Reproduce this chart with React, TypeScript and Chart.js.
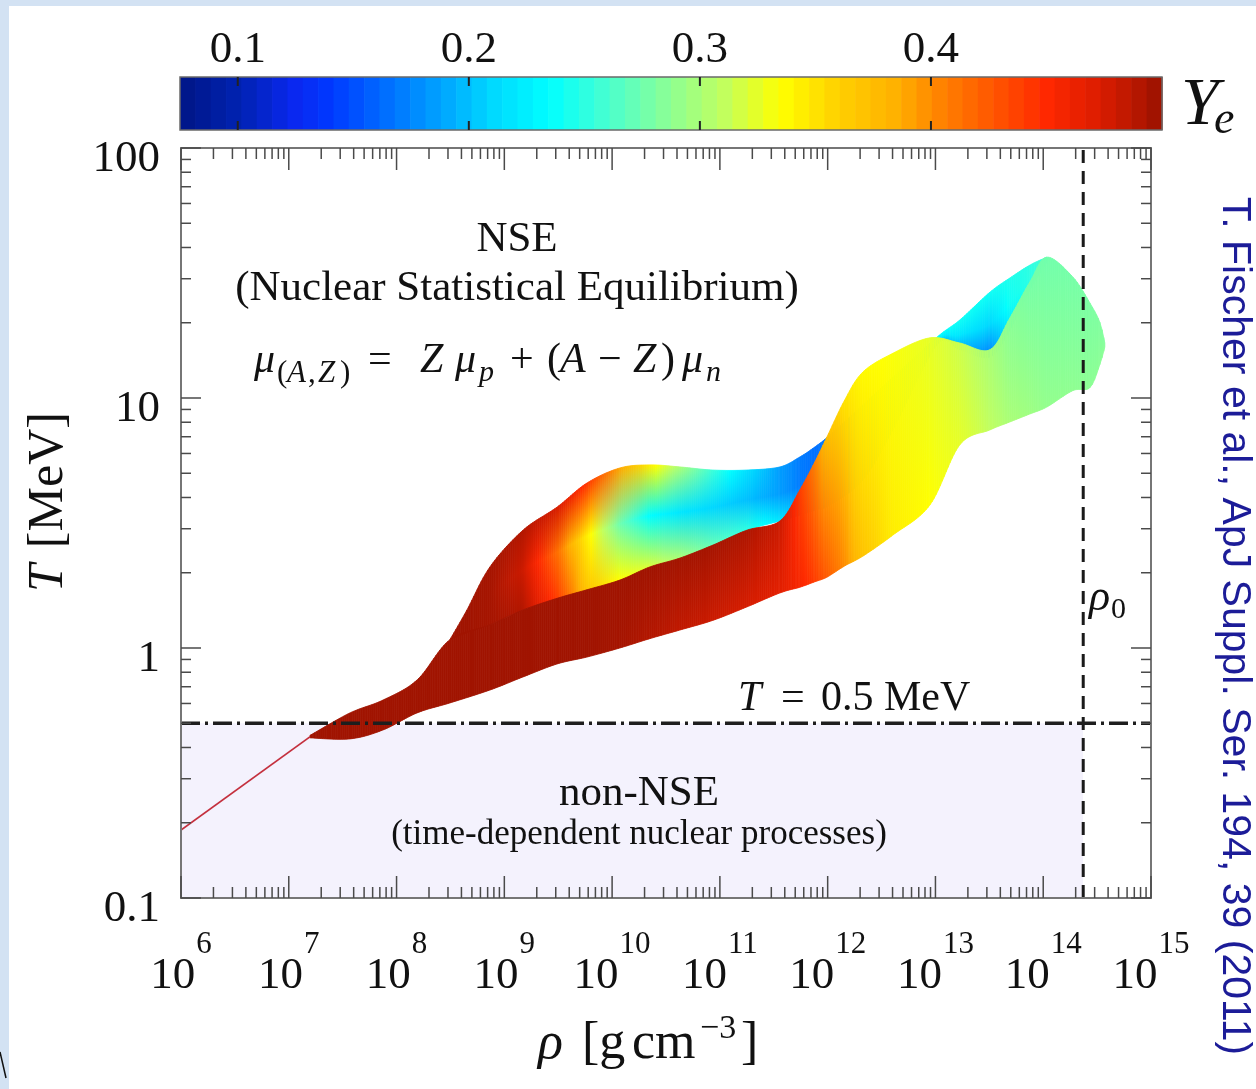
import React, { useEffect, useRef } from 'react';
import { Chart, registerables } from 'chart.js';

Chart.register(...registerables);

const SERIF = '"Liberation Serif", "DejaVu Serif", serif';
const SANS = '"Liberation Sans", Arial, sans-serif';

// Axis ranges: density rho [g cm^-3] and temperature T [MeV]
const RHO_MIN = 1e6;
const RHO_MAX = 1e15;
const T_MIN = 0.1;
const T_MAX = 100;
const X_EXPONENTS = [6, 7, 8, 9, 10, 11, 12, 13, 14, 15];
const Y_TICKS = [0.1, 1, 10, 100];
const Y_TICK_LABELS = ['0.1', '1', '10', '100'];

// Electron fraction colour scale
const YE_MIN = 0.075;
const YE_MAX = 0.5;
const YE_TICKS = [0.1, 0.2, 0.3, 0.4];
const YE_TICK_LABELS = ['0.1', '0.2', '0.3', '0.4'];
const CMAP_YE = [0.075, 0.1, 0.125, 0.14, 0.165, 0.19, 0.21, 0.235, 0.26, 0.285, 0.31, 0.335, 0.36, 0.385, 0.405, 0.43, 0.45, 0.47, 0.485, 0.5];
const CMAP_HEX = ['#001585', '#0022b0', '#0a28f0', '#0038ff', '#0070ff', '#00a8ff', '#00d8ff', '#00ffff', '#48ffd0', '#88ff98', '#c0ff60', '#ffff00', '#ffd000', '#ffb000', '#ff8000', '#ff5000', '#ff2800', '#e01e00', '#c01800', '#981200'];

// Reference lines
const T_NSE = 0.5;
const RHO_0 = 2.35e14;

// Outer low-density layers (single thin track)
const TRACK_RHO = [1e6, 1.57e7];
const TRACK_T = [0.187, 0.441];

// Upper sheet: deleptonised lobe and the cyan strip towards nuclear density
const UPPER_RHO = [3.13e8, 4.5e8, 7.35e8, 1.49e9, 3.08e9, 5.84e9, 1.18e10, 2.24e10, 4.26e10, 8.61e10, 1.78e11, 3.6e11, 5.52e11, 7.6e11, 1.05e12, 2.12e12, 4.03e12, 1.03e13, 1.68e13, 3.2e13, 4.9e13, 7.51e13, 1.08e14];
const UPPER_T_TOP = [1.08, 1.42, 2.11, 2.96, 3.66, 4.57, 5.25, 5.4, 5.3, 5.15, 5.15, 5.3, 5.81, 6.37, 7.11, 9.38, 12.1, 17.5, 20.5, 26.5, 30.2, 34.0, 36.6];
const UPPER_T_BOTTOM = [1.08, 1.15, 1.24, 1.42, 1.58, 1.71, 1.87, 2.11, 2.29, 2.58, 2.96, 3.22, 3.4, 3.56, 3.73, 4.7, 7.45, 16.3, 15.6, 14.6, 18.7, 27.0, 35.0];
const UPPER_YE_TOP = [0.497, 0.497, 0.495, 0.49, 0.475, 0.445, 0.39, 0.345, 0.3, 0.255, 0.215, 0.185, 0.17, 0.165, 0.17, 0.2, 0.22, 0.235, 0.24, 0.24, 0.245, 0.25, 0.26];
const UPPER_YE_MID = [0.497, 0.497, 0.495, 0.48, 0.415, 0.345, 0.275, 0.235, 0.22, 0.21, 0.2, 0.185, 0.17, 0.165, 0.17, 0.2, 0.21, 0.225, 0.22, 0.21, 0.24, 0.25, 0.26];
const UPPER_YE_BOTTOM = [0.497, 0.497, 0.495, 0.49, 0.44, 0.37, 0.335, 0.32, 0.3, 0.27, 0.25, 0.22, 0.2, 0.19, 0.19, 0.2, 0.2, 0.2, 0.19, 0.17, 0.22, 0.25, 0.26];

// Lower sheet: hot, nearly symmetric matter heating up towards nuclear density
const LOWER_RHO = [1.57e7, 3.7e7, 7.48e7, 1.55e8, 3.13e8, 7.35e8, 1.49e9, 3.08e9, 5.84e9, 1.18e10, 2.24e10, 4.26e10, 8.61e10, 1.78e11, 3.6e11, 5.52e11, 7.6e11, 9.84e11, 1.44e12, 2.12e12, 4.03e12, 8.87e12, 1.68e13, 3.2e13, 4.9e13, 7.51e13, 1.08e14, 1.88e14, 2.71e14, 3.35e14, 3.73e14];
const LOWER_T_TOP = [0.447, 0.55, 0.619, 0.745, 1.08, 1.24, 1.42, 1.58, 1.71, 1.87, 2.11, 2.29, 2.58, 2.96, 3.22, 4.29, 5.55, 6.98, 9.82, 12.7, 15.1, 17.4, 16.6, 15.6, 20.9, 29.1, 36.6, 30.5, 24.0, 20.1, 16.6];
const LOWER_T_BOTTOM = [0.437, 0.433, 0.47, 0.55, 0.603, 0.679, 0.766, 0.863, 0.92, 1.0, 1.09, 1.18, 1.29, 1.46, 1.66, 1.75, 1.84, 1.92, 2.13, 2.33, 2.83, 3.73, 6.49, 7.45, 8.02, 8.63, 9.2, 10.7, 11.0, 13.6, 16.0];
const LOWER_YE_TOP = [0.497, 0.497, 0.497, 0.497, 0.497, 0.497, 0.497, 0.497, 0.497, 0.497, 0.497, 0.496, 0.495, 0.492, 0.48, 0.44, 0.405, 0.375, 0.35, 0.338, 0.333, 0.325, 0.315, 0.3, 0.285, 0.278, 0.276, 0.278, 0.28, 0.282, 0.283];
const LOWER_YE_BOTTOM = [0.497, 0.497, 0.497, 0.497, 0.497, 0.497, 0.497, 0.497, 0.497, 0.495, 0.49, 0.485, 0.48, 0.475, 0.468, 0.455, 0.44, 0.425, 0.4, 0.37, 0.345, 0.335, 0.325, 0.31, 0.3, 0.295, 0.29, 0.288, 0.287, 0.286, 0.286];

const W = 1256;
const H = 1089;
const AREA = { left: 181, right: 1151, top: 148, bottom: 898 };
const BAR = { left: 180, right: 1162, top: 77, bottom: 130 };

const hexToRgb = (h: string) => {
  const n = parseInt(h.slice(1), 16);
  return [(n >> 16) & 255, (n >> 8) & 255, n & 255];
};
const CMAP_RGB = CMAP_HEX.map(hexToRgb);

function yeColor(ye: number): string {
  const v = Math.min(CMAP_YE[CMAP_YE.length - 1], Math.max(CMAP_YE[0], ye));
  let i = 0;
  while (i < CMAP_YE.length - 2 && v > CMAP_YE[i + 1]) i++;
  const t = (v - CMAP_YE[i]) / (CMAP_YE[i + 1] - CMAP_YE[i]);
  const a = CMAP_RGB[i];
  const b = CMAP_RGB[i + 1];
  const c = [0, 1, 2].map((k) => Math.round(a[k] + (b[k] - a[k]) * t));
  return `rgb(${c[0]},${c[1]},${c[2]})`;
}

type Run = { t: string; size: number; italic?: boolean; dy?: number; dx?: number; font?: string };
const runFont = (r: Run) => `${r.italic ? 'italic ' : ''}${r.size}px ${r.font || SERIF}`;

function drawRuns(ctx: CanvasRenderingContext2D, runs: Run[], x: number, y: number, align: 'left' | 'center' | 'right') {
  ctx.textAlign = 'left';
  ctx.textBaseline = 'alphabetic';
  const widths = runs.map((r) => {
    ctx.font = runFont(r);
    return ctx.measureText(r.t).width + (r.dx || 0);
  });
  const total = widths.reduce((s, w) => s + w, 0);
  let cx = align === 'center' ? x - total / 2 : align === 'right' ? x - total : x;
  runs.forEach((r, i) => {
    ctx.font = runFont(r);
    ctx.fillText(r.t, cx + (r.dx || 0), y + (r.dy || 0));
    cx += widths[i];
  });
}

// text placed glyph-group by glyph-group: [text, x, baseline, size, italic]
type Placed = [string, number, number, number, boolean];
function drawPlaced(ctx: CanvasRenderingContext2D, items: Placed[]) {
  ctx.textAlign = 'left';
  ctx.textBaseline = 'alphabetic';
  items.forEach(([t, x, y, size, italic]) => {
    ctx.font = `${italic ? 'italic ' : ''}${size}px ${SERIF}`;
    ctx.fillText(t, x, y);
  });
}

const lerp = (p: number, q: number, t: number) => p + (q - p) * t;
const catmull = (p0: number, p1: number, p2: number, p3: number, t: number) =>
  0.5 * (2 * p1 + (-p0 + p2) * t + (2 * p0 - 5 * p1 + 4 * p2 - p3) * t * t + (-p0 + 3 * p1 - 3 * p2 + p3) * t * t * t);

function drawRibbon(chart: any, topIdx: number, botIdx: number, rows: number[][]) {
  const ctx: CanvasRenderingContext2D = chart.ctx;
  const top = chart.getDatasetMeta(topIdx).data;
  const bot = chart.getDatasetMeta(botIdx).data;
  const n = top.length;
  const at = (arr: any[], j: number, key: 'x' | 'y') => arr[Math.max(0, Math.min(n - 1, j))][key];
  const curve = (arr: any[], i: number, key: 'x' | 'y', t: number) =>
    catmull(at(arr, i - 1, key), at(arr, i, key), at(arr, i + 1, key), at(arr, i + 2, key), t);
  for (let i = 0; i < n - 1; i++) {
    const steps = Math.max(1, Math.ceil(Math.abs(top[i + 1].x - top[i].x) / 2));
    for (let k = 0; k < steps; k++) {
      const a = k / steps;
      const b = (k + 1) / steps;
      const m = (a + b) / 2;
      const xa = curve(top, i, 'x', a);
      const xb = curve(top, i, 'x', b);
      const ta = curve(top, i, 'y', a);
      const tb = curve(top, i, 'y', b);
      const ba = curve(bot, i, 'y', a);
      const bb = curve(bot, i, 'y', b);
      const xm = (xa + xb) / 2;
      const tm = (ta + tb) / 2;
      const bm = (ba + bb) / 2;
      let fill: any;
      if (Math.abs(bm - tm) < 0.5) {
        fill = yeColor(lerp(rows[0][i], rows[0][i + 1], m));
      } else {
        const g = ctx.createLinearGradient(xm, tm, xm, bm);
        rows.forEach((row, r) => g.addColorStop(r / (rows.length - 1), yeColor(lerp(row[i], row[i + 1], m))));
        fill = g;
      }
      ctx.beginPath();
      ctx.moveTo(xa, ta);
      ctx.lineTo(xb, tb);
      ctx.lineTo(xb, bb);
      ctx.lineTo(xa, ba);
      ctx.closePath();
      ctx.fillStyle = fill;
      ctx.fill();
      ctx.strokeStyle = fill;
      ctx.lineWidth = 0.8;
      ctx.stroke();
    }
  }
}

const pts = (xs: number[], ys: number[]) => xs.map((x, i) => ({ x, y: ys[i] }));

const edgeDataset = (label: string, data: { x: number; y: number }[]) => ({
  label,
  data,
  showLine: false,
  pointRadius: 0,
  borderWidth: 0,
  fill: false,
  order: 10,
});

const backgroundPlugin = {
  id: 'pageBackground',
  beforeDraw(chart: any) {
    const ctx: CanvasRenderingContext2D = chart.ctx;
    ctx.save();
    ctx.fillStyle = '#ffffff';
    ctx.fillRect(0, 0, W, H);
    ctx.fillStyle = '#d3e2f3';
    ctx.fillRect(0, 0, 9, H);
    ctx.fillRect(0, 0, W, 6);
    ctx.strokeStyle = '#111';
    ctx.lineWidth = 1.5;
    ctx.beginPath();
    ctx.moveTo(0, 1052);
    ctx.lineTo(6, 1078);
    ctx.stroke();
    ctx.restore();
  },
};

const ribbonPlugin = {
  id: 'yeRibbons',
  beforeDatasetsDraw(chart: any) {
    const ctx: CanvasRenderingContext2D = chart.ctx;
    const a = chart.chartArea;
    ctx.save();
    ctx.beginPath();
    ctx.rect(a.left, a.top, a.right - a.left, a.bottom - a.top);
    ctx.clip();
    drawRibbon(chart, 4, 5, [UPPER_YE_TOP, UPPER_YE_MID, UPPER_YE_BOTTOM]);
    drawRibbon(chart, 6, 7, [LOWER_YE_TOP, LOWER_YE_BOTTOM]);
    ctx.restore();
  },
};

const overlayPlugin = {
  id: 'frameAndText',
  afterDraw(chart: any) {
    const ctx: CanvasRenderingContext2D = chart.ctx;
    const xs = chart.scales.x;
    const ys = chart.scales.y;
    const a = chart.chartArea;
    ctx.save();

    // frame
    ctx.strokeStyle = '#767676';
    ctx.lineWidth = 2;
    ctx.strokeRect(a.left, a.top, a.right - a.left, a.bottom - a.top);

    // ticks on all four sides, pointing inwards
    ctx.strokeStyle = '#4a4a4a';
    ctx.lineWidth = 1.5;
    const seg = (x1: number, y1: number, x2: number, y2: number) => {
      ctx.beginPath();
      ctx.moveTo(x1, y1);
      ctx.lineTo(x2, y2);
      ctx.stroke();
    };
    const minorMult = [2, 3, 4, 5, 6, 7, 8, 9];
    X_EXPONENTS.forEach((e, idx) => {
      const px = xs.getPixelForValue(Math.pow(10, e));
      seg(px, a.top, px, a.top + 22);
      seg(px, a.bottom, px, a.bottom - 22);
      if (idx < X_EXPONENTS.length - 1) {
        minorMult.forEach((mm) => {
          const p = xs.getPixelForValue(mm * Math.pow(10, e));
          seg(p, a.top, p, a.top + 11);
          seg(p, a.bottom, p, a.bottom - 11);
        });
      }
    });
    Y_TICKS.forEach((v, idx) => {
      const py = ys.getPixelForValue(v);
      seg(a.left, py, a.left + 20, py);
      seg(a.right, py, a.right - 20, py);
      if (idx < Y_TICKS.length - 1) {
        minorMult.forEach((mm) => {
          const p = ys.getPixelForValue(mm * v);
          seg(a.left, p, a.left + 10, p);
          seg(a.right, p, a.right - 10, p);
        });
      }
    });

    ctx.fillStyle = '#111';
    // x tick labels
    X_EXPONENTS.forEach((e) => {
      const px = xs.getPixelForValue(Math.pow(10, e));
      drawRuns(ctx, [{ t: '10', size: 45 }, { t: String(e), size: 31, dy: -35, dx: 1 }], px, 988, 'center');
    });
    // y tick labels
    Y_TICKS.forEach((v, i) => {
      const py = ys.getPixelForValue(v);
      drawRuns(ctx, [{ t: Y_TICK_LABELS[i], size: 45 }], 160, py + 23, 'right');
    });

    // axis titles
    drawPlaced(ctx, [
      ['ρ', 538, 1058, 52, true],
      ['[g', 582, 1058, 52, false],
      ['cm', 632, 1058, 52, false],
      ['−3', 700, 1038, 34, false],
      [']', 741, 1058, 52, false],
    ]);
    ctx.save();
    ctx.translate(62, 502);
    ctx.rotate(-Math.PI / 2);
    drawRuns(ctx, [{ t: 'T', size: 50, italic: true }, { t: '[MeV]', size: 50, dx: 16 }], 0, 0, 'center');
    ctx.restore();

    // colour bar
    const nBands = 64;
    const bw = (BAR.right - BAR.left) / nBands;
    for (let k = 0; k < nBands; k++) {
      const ye = YE_MIN + ((k + 0.5) / nBands) * (YE_MAX - YE_MIN);
      ctx.fillStyle = yeColor(ye);
      ctx.fillRect(BAR.left + k * bw, BAR.top, bw + 0.6, BAR.bottom - BAR.top);
    }
    ctx.strokeStyle = '#6a6a6a';
    ctx.lineWidth = 1.5;
    ctx.strokeRect(BAR.left, BAR.top, BAR.right - BAR.left, BAR.bottom - BAR.top);
    const yeX = (ye: number) => BAR.left + ((ye - YE_MIN) / (YE_MAX - YE_MIN)) * (BAR.right - BAR.left);
    ctx.strokeStyle = '#222';
    ctx.lineWidth = 2;
    ctx.fillStyle = '#111';
    YE_TICKS.forEach((ye, i) => {
      const px = yeX(ye);
      seg(px, BAR.top, px, BAR.top + 9);
      seg(px, BAR.bottom, px, BAR.bottom - 9);
      drawRuns(ctx, [{ t: YE_TICK_LABELS[i], size: 45 }], px, 62, 'center');
    });
    drawPlaced(ctx, [
      ['Y', 1181, 124, 68, true],
      ['e', 1214, 133, 46, true],
    ]);

    // region annotations
    drawRuns(ctx, [{ t: 'NSE', size: 43 }], 517, 251, 'center');
    drawRuns(ctx, [{ t: '(Nuclear Statistical Equilibrium)', size: 43 }], 517, 300, 'center');
    drawPlaced(ctx, [
      ['μ', 254, 372, 42, true],
      ['(', 277, 382, 31, false],
      ['A', 287, 382, 31, true],
      [',', 308, 382, 31, false],
      ['Z', 318, 382, 31, true],
      [')', 340, 382, 31, false],
      ['=', 368, 372, 42, false],
      ['Z', 420, 372, 42, true],
      ['μ', 455, 372, 42, true],
      ['p', 479, 381, 30, true],
      ['+', 510, 372, 42, false],
      ['(', 547, 372, 42, false],
      ['A', 560, 372, 42, true],
      ['−', 598, 372, 42, false],
      ['Z', 633, 372, 42, true],
      [')', 661, 372, 42, false],
      ['μ', 682, 372, 42, true],
      ['n', 706, 381, 30, true],
    ]);
    const yLine = ys.getPixelForValue(T_NSE);
    drawPlaced(ctx, [
      ['T', 738, yLine - 13, 42, true],
      ['=', 781, yLine - 13, 42, false],
      ['0.5', 821, yLine - 13, 42, false],
      ['MeV', 884, yLine - 13, 42, false],
    ]);
    drawRuns(ctx, [{ t: 'non-NSE', size: 43 }], 639, 805, 'center');
    drawRuns(ctx, [{ t: '(time-dependent nuclear processes)', size: 35 }], 639, 844, 'center');
    drawPlaced(ctx, [
      ['ρ', 1089, 610, 44, true],
      ['0', 1111, 618, 30, false],
    ]);

    // citation
    ctx.save();
    ctx.translate(1234, 626);
    ctx.rotate(Math.PI / 2);
    ctx.fillStyle = '#1c1c98';
    ctx.font = `41px ${SANS}`;
    ctx.textAlign = 'center';
    ctx.textBaseline = 'middle';
    ctx.fillText('T. Fischer et al., ApJ Suppl. Ser. 194, 39 (2011)', 0, 0);
    ctx.restore();

    ctx.restore();
  },
};

export default function App() {
  const ref = useRef<HTMLCanvasElement>(null);
  useEffect(() => {
    document.body.style.margin = '0';
    const canvas = ref.current;
    if (!canvas) return;
    const chart = new Chart(canvas, {
      type: 'line',
      data: {
        datasets: [
          {
            label: 'T = 0.5 MeV',
            data: [{ x: RHO_MIN, y: T_NSE }, { x: RHO_MAX, y: T_NSE }],
            borderColor: '#1e1e1e',
            borderWidth: 3.5,
            borderDash: [19, 5, 3, 5],
            pointRadius: 0,
            fill: false,
            order: 0,
          },
          {
            label: 'rho0',
            data: [{ x: RHO_0, y: T_MIN }, { x: RHO_0, y: T_MAX }],
            borderColor: '#1a1a1a',
            borderWidth: 3,
            borderDash: [13, 8],
            pointRadius: 0,
            fill: false,
            order: 1,
          },
          {
            label: 'outer layers',
            data: pts(TRACK_RHO, TRACK_T),
            borderColor: '#c4303e',
            borderWidth: 1.8,
            pointRadius: 0,
            fill: false,
            order: 2,
          },
          {
            label: 'non-NSE',
            data: [{ x: RHO_MIN, y: T_NSE }, { x: RHO_0, y: T_NSE }],
            borderColor: 'rgba(0,0,0,0)',
            borderWidth: 0,
            backgroundColor: '#f4f2fd',
            fill: 'start',
            pointRadius: 0,
            order: 3,
          },
          edgeDataset('upper sheet top', pts(UPPER_RHO, UPPER_T_TOP)),
          edgeDataset('upper sheet bottom', pts(UPPER_RHO, UPPER_T_BOTTOM)),
          edgeDataset('lower sheet top', pts(LOWER_RHO, LOWER_T_TOP)),
          edgeDataset('lower sheet bottom', pts(LOWER_RHO, LOWER_T_BOTTOM)),
        ] as any,
      },
      options: {
        animation: false,
        responsive: false,
        devicePixelRatio: 1,
        events: [],
        layout: { padding: { left: AREA.left, right: W - AREA.right, top: AREA.top, bottom: H - AREA.bottom } },
        scales: {
          x: { type: 'logarithmic', min: RHO_MIN, max: RHO_MAX, display: false },
          y: { type: 'logarithmic', min: T_MIN, max: T_MAX, display: false },
        },
        plugins: {
          legend: { display: false },
          tooltip: { enabled: false },
          filler: { drawTime: 'beforeDatasetsDraw' },
        } as any,
      },
      plugins: [backgroundPlugin, ribbonPlugin, overlayPlugin],
    });
    return () => chart.destroy();
  }, []);
  return <canvas ref={ref} width={W} height={H} style={{ display: 'block', width: W, height: H }} />;
}
